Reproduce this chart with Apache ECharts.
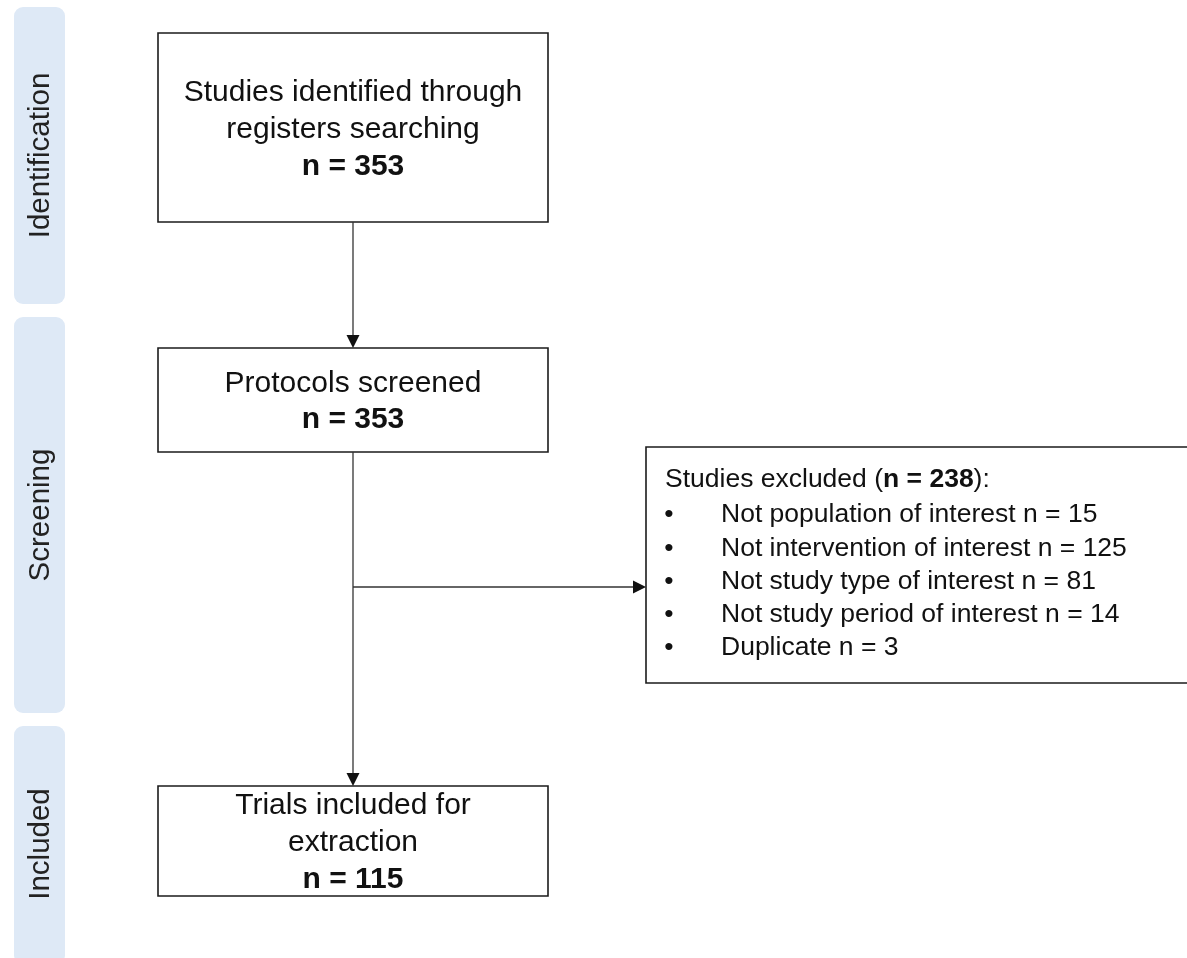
<!DOCTYPE html>
<html><head><meta charset="utf-8">
<script src="https://cdn.jsdelivr.net/npm/echarts@6/dist/echarts.min.js"></script>
<style>html,body{margin:0;padding:0;background:#fff}#c{width:1187px;height:958px}</style>
</head><body><div id="c"></div><script>
// ---- content ----
const stages = ['Identification', 'Screening', 'Included'];
const boxTitles = [['Studies identified through', 'registers searching'], ['Protocols screened'], ['Trials included for', 'extraction']];
const boxCounts = [353, 353, 115];
const excludedTotal = 238;
const exclusionReasons = ['Not population of interest', 'Not intervention of interest', 'Not study type of interest', 'Not study period of interest', 'Duplicate'];
const exclusionCounts = [15, 125, 81, 14, 3];

// ---- layout (pixel units on hidden axes) ----
const stageBands = [[7, 304], [317, 713], [726, 964]];
const bandX = [14, 65];
const boxRects = [[158, 33, 548, 222], [158, 348, 548, 452], [158, 786, 548, 896]];
const boxLineY = [[93, 130, 167], [384, 420], [806, 843, 880]];
const exclRect = [646, 447, 1192, 683];
const arrows = [[353, 222, 353, 348], [353, 452, 353, 786], [353, 587, 646, 587]];

const FONT = '"Liberation Sans", Arial, sans-serif';
const chart = echarts.init(document.getElementById('c'), null, {renderer: 'canvas'});

function txt(x, y, text, size, bold, align, extra) {
  return Object.assign({
    type: 'text',
    style: {
      x: x, y: y, text: text, fill: '#111',
      fontSize: size, fontFamily: FONT, fontWeight: bold ? 'bold' : 'normal',
      align: align || 'center', verticalAlign: 'middle',
      textAlign: align || 'center', textVerticalAlign: 'middle'
    }
  }, extra || {});
}

const option = {
  animation: false,
  grid: {left: 0, right: 0, top: 0, bottom: 0},
  xAxis: {type: 'value', min: 0, max: 1187, show: false},
  yAxis: {type: 'value', min: 0, max: 958, inverse: true, show: false},
  series: [
    { // stage bands
      type: 'custom', clip: false, silent: true,
      data: stages.map((s, i) => [i]),
      renderItem: function (params, api) {
        const i = params.dataIndex;
        const p0 = api.coord([bandX[0], stageBands[i][0]]);
        const p1 = api.coord([bandX[1], stageBands[i][1]]);
        const label = txt(0, 0, stages[i], 29.5, false, 'center');
        label.style.fill = '#222';
        return {
          type: 'group', children: [
            {type: 'rect', shape: {x: p0[0], y: p0[1], width: p1[0] - p0[0], height: p1[1] - p0[1], r: 9},
              style: {fill: '#dee9f6'}},
            Object.assign(label, {x: (p0[0] + p1[0]) / 2 + 1, y: i === 2 ? api.coord([0, 844])[1] : (p0[1] + p1[1]) / 2, rotation: Math.PI / 2})
          ]
        };
      }
    },
    { // main boxes
      type: 'custom', clip: false, silent: true,
      data: boxCounts.map((v, i) => [i, v]),
      renderItem: function (params, api) {
        const i = params.dataIndex;
        const r = boxRects[i];
        const p0 = api.coord([r[0], r[1]]);
        const p1 = api.coord([r[2], r[3]]);
        const cx = (p0[0] + p1[0]) / 2;
        const children = [
          {type: 'rect', shape: {x: p0[0], y: p0[1], width: p1[0] - p0[0], height: p1[1] - p0[1]},
            style: {fill: '#fff', stroke: '#1b1b1b', lineWidth: 1.6}}
        ];
        const lines = boxTitles[i].concat(['n = ' + api.value(1)]);
        lines.forEach((t, k) => {
          const y = api.coord([0, boxLineY[i][k]])[1];
          children.push(txt(cx, y, t, 30, k === lines.length - 1, 'center'));
        });
        return {type: 'group', children: children};
      }
    },
    { // exclusion box
      type: 'custom', clip: false, silent: true,
      data: [[0, excludedTotal]],
      renderItem: function (params, api) {
        const p0 = api.coord([exclRect[0], exclRect[1]]);
        const p1 = api.coord([exclRect[2], exclRect[3]]);
        const FS = 26.5;
        const children = [
          {type: 'rect', shape: {x: p0[0], y: p0[1], width: p1[0] - p0[0], height: p1[1] - p0[1]},
            style: {fill: '#fff', stroke: '#1b1b1b', lineWidth: 1.6}}
        ];
        const tp = api.coord([665, 480]);
        const title = txt(tp[0], tp[1], '{a|Studies excluded (}{b|n = ' + api.value(1) + '}{a|):}', FS, false, 'left');
        title.style.rich = {
          a: {fontSize: FS, fontFamily: FONT, fill: '#111'},
          b: {fontSize: FS, fontFamily: FONT, fill: '#111', fontWeight: 'bold'}
        };
        children.push(title);
        exclusionReasons.forEach((t, k) => {
          const y = api.coord([0, 515 + k * 33.2])[1];
          const bx = api.coord([669, 0])[0];
          const tx = api.coord([721, 0])[0];
          children.push(txt(bx, y, '•', FS, false, 'center'));
          children.push(txt(tx, y, t + ' n = ' + exclusionCounts[k], FS, false, 'left'));
        });
        return {type: 'group', children: children};
      }
    },
    { // arrows
      type: 'custom', clip: false, silent: true,
      data: arrows.map((a, i) => [i]),
      renderItem: function (params, api) {
        const a = arrows[params.dataIndex];
        const s = api.coord([a[0], a[1]]);
        const e = api.coord([a[2], a[3]]);
        const dx = e[0] - s[0], dy = e[1] - s[1];
        const len = Math.sqrt(dx * dx + dy * dy);
        const ux = dx / len, uy = dy / len;
        const hl = 13, hw = 6.5;
        const bx = e[0] - ux * hl, by = e[1] - uy * hl;
        return {
          type: 'group', children: [
            {type: 'line', shape: {x1: s[0], y1: s[1], x2: bx, y2: by}, style: {stroke: '#333', lineWidth: 1.3}},
            {type: 'polygon', shape: {points: [[e[0], e[1]], [bx - uy * hw, by + ux * hw], [bx + uy * hw, by - ux * hw]]},
              style: {fill: '#111'}}
          ]
        };
      }
    }
  ]
};
chart.setOption(option);
</script></body></html>
